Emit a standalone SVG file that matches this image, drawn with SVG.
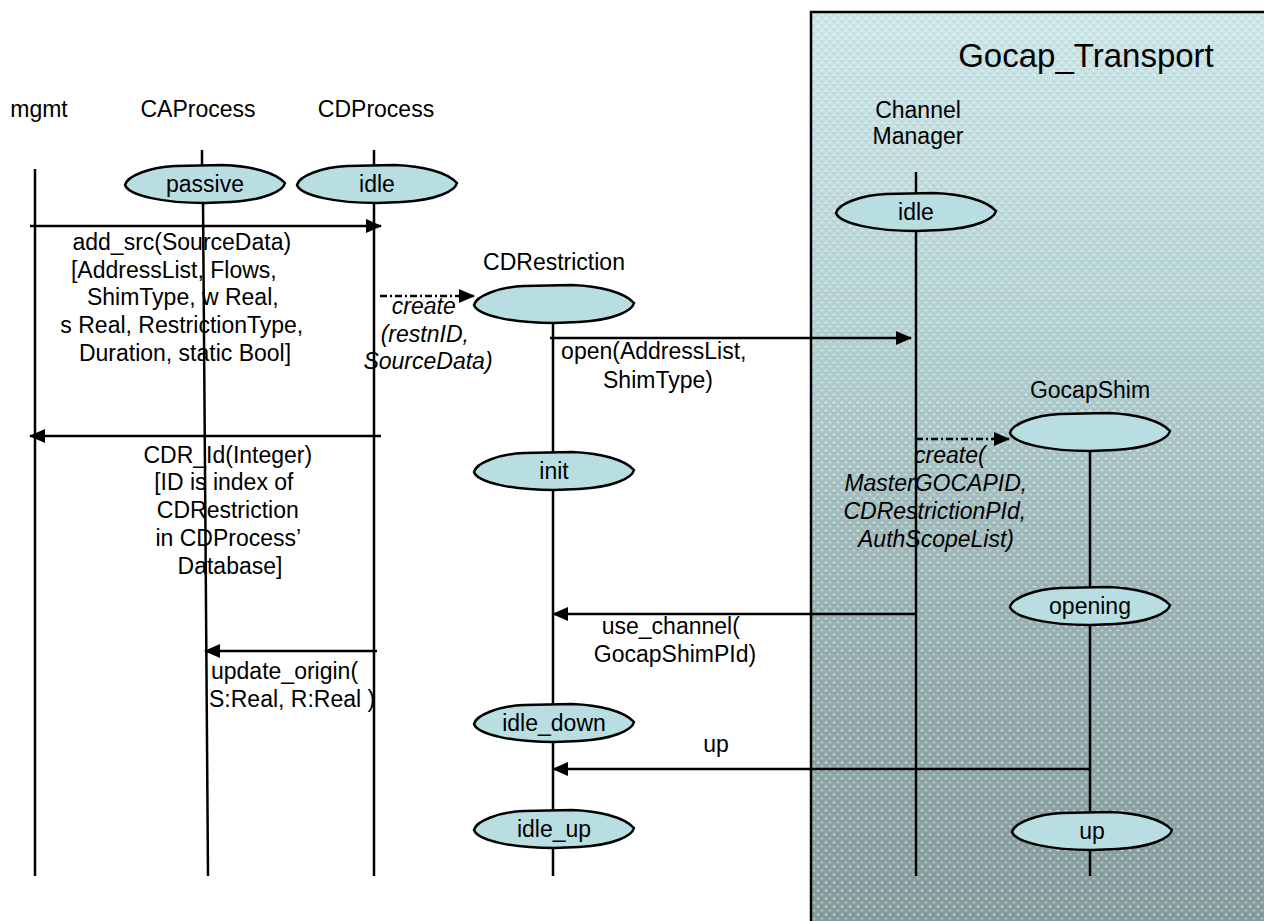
<svg xmlns="http://www.w3.org/2000/svg" xmlns:xlink="http://www.w3.org/1999/xlink" width="1264" height="921" viewBox="0 0 1264 921">
  <style>
    text { font-family: "Liberation Sans", Arial, sans-serif; font-size: 23px; fill: #000; }
    .mid { text-anchor: middle; }
    .it { font-style: italic; }
    .title { font-size: 33px; }
    .life { stroke: #000; stroke-width: 2.5; fill: none; }
    .msg { stroke: #000; stroke-width: 2.5; fill: none; marker-end: url(#head); }
    .create { stroke: #000; stroke-width: 2.5; fill: none; stroke-dasharray: 7 3 2 3; marker-end: url(#head); }
    .state { fill: #b8dee2; stroke: #000; stroke-width: 2.5; }
  </style>
  <defs>
    <marker id="head" markerUnits="userSpaceOnUse" markerWidth="16" markerHeight="14" refX="15" refY="7" orient="auto">
      <path d="M0,0 L16,7 L0,14 Z" fill="#000"/>
    </marker>
    <linearGradient id="shade" x1="0" y1="0" x2="0" y2="1">
      <stop offset="0" stop-color="#cbe6e8"/>
      <stop offset="0.35" stop-color="#b2d0d2"/>
      <stop offset="0.7" stop-color="#94acad"/>
      <stop offset="1" stop-color="#829a9a"/>
    </linearGradient>
    <pattern id="dots" width="8" height="8" patternUnits="userSpaceOnUse">
      <path d="M2,1 v3 M0.5,2.5 h3" stroke="#ffffff" stroke-opacity="0.45" stroke-width="1"/>
      <path d="M6,5 v3 M4.5,6.5 h3" stroke="#ffffff" stroke-opacity="0.3" stroke-width="1"/>
      <rect x="5" y="1" width="1" height="1" fill="#000" fill-opacity="0.15"/>
      <rect x="1" y="5" width="1" height="1" fill="#000" fill-opacity="0.15"/>
    </pattern>
    <path id="stateShape" d="M-80,1 C-78,-8 -55,-17 -30,-18 L18,-19 C45,-18 70,-12 80,-1 C78,7 60,16 25,18 L0,19 C-40,19 -76,12 -80,1 Z"/>
  </defs>

  <!-- Gocap_Transport container -->
  <g id="gocap-transport">
    <rect x="811" y="12" width="470" height="930" fill="url(#shade)"/>
    <rect x="811" y="12" width="470" height="930" fill="url(#dots)"/>
    <rect x="811" y="12" width="470" height="930" fill="none" stroke="#000" stroke-width="2.5"/>
    <text x="1086" y="67" class="title mid">Gocap_Transport</text>
  </g>

  <!-- lifelines -->
  <g id="mgmt">
    <text x="39" y="117" class="mid">mgmt</text>
    <line x1="35" y1="169" x2="35" y2="876" class="life"/>
  </g>
  <g id="caprocess">
    <text x="198" y="117" class="mid">CAProcess</text>
    <line x1="202" y1="150" x2="202" y2="168" class="life"/>
    <line x1="203" y1="200" x2="208" y2="876" class="life"/>
  </g>
  <g id="cdprocess">
    <text x="376" y="117" class="mid">CDProcess</text>
    <line x1="374" y1="150" x2="374" y2="168" class="life"/>
    <line x1="374" y1="200" x2="374" y2="876" class="life"/>
  </g>
  <g id="cdrestriction">
    <text x="554" y="270" class="mid">CDRestriction</text>
    <line x1="553" y1="320" x2="553" y2="876" class="life"/>
  </g>
  <g id="channel-manager">
    <text x="918" y="118" class="mid">Channel</text>
    <text x="918" y="144" class="mid">Manager</text>
    <line x1="916" y1="172" x2="916" y2="196" class="life"/>
    <line x1="916" y1="228" x2="916" y2="876" class="life"/>
  </g>
  <g id="gocapshim">
    <text x="1090" y="398" class="mid">GocapShim</text>
    <line x1="1090" y1="448" x2="1090" y2="876" class="life"/>
  </g>

  <!-- states -->
  <g id="state-passive">
    <use xlink:href="#stateShape" x="205" y="184" class="state"/>
    <text x="205" y="192" class="mid">passive</text>
  </g>
  <g id="state-cdprocess-idle">
    <use xlink:href="#stateShape" x="377" y="184" class="state"/>
    <text x="377" y="192" class="mid">idle</text>
  </g>
  <g id="state-cm-idle">
    <use xlink:href="#stateShape" x="916" y="212" class="state"/>
    <text x="916" y="220" class="mid">idle</text>
  </g>
  <g id="state-cdrestriction-new">
    <use xlink:href="#stateShape" x="554" y="304" class="state"/>
  </g>
  <g id="state-init">
    <use xlink:href="#stateShape" x="554" y="471" class="state"/>
    <text x="554" y="479" class="mid">init</text>
  </g>
  <g id="state-idle-down">
    <use xlink:href="#stateShape" x="554" y="723" class="state"/>
    <text x="554" y="731" class="mid">idle_down</text>
  </g>
  <g id="state-idle-up">
    <use xlink:href="#stateShape" x="554" y="829" class="state"/>
    <text x="554" y="837" class="mid">idle_up</text>
  </g>
  <g id="state-gocapshim-new">
    <use xlink:href="#stateShape" x="1090" y="432" class="state"/>
  </g>
  <g id="state-opening">
    <use xlink:href="#stateShape" x="1090" y="606" class="state"/>
    <text x="1090" y="614" class="mid">opening</text>
  </g>
  <g id="state-up">
    <use xlink:href="#stateShape" x="1092" y="831" class="state"/>
    <text x="1092" y="839" class="mid">up</text>
  </g>

  <!-- messages -->
  <g id="connectors">
    <line x1="30" y1="226" x2="381" y2="226" class="msg"/>
    <line x1="380" y1="296" x2="474" y2="296" class="create"/>
    <line x1="550" y1="338" x2="911" y2="338" class="msg"/>
    <line x1="381" y1="436" x2="30" y2="436" class="msg"/>
    <line x1="916" y1="439" x2="1009" y2="439" class="create"/>
    <line x1="916" y1="614" x2="553" y2="614" class="msg"/>
    <line x1="377" y1="651" x2="205" y2="651" class="msg"/>
    <line x1="1091" y1="769" x2="553" y2="769" class="msg"/>

    <text class="mid">
      <tspan x="185" y="250">add_src(SourceData)</tspan>
      <tspan x="177" y="278">[AddressList, Flows,</tspan>
      <tspan x="186" y="305">ShimType, w Real,</tspan>
      <tspan x="185" y="333">s Real, RestrictionType,</tspan>
      <tspan x="185" y="361">Duration, static Bool]</tspan>
    </text>
    <text class="mid it">
      <tspan x="427" y="314">create</tspan>
      <tspan x="428" y="342">(restnID,</tspan>
      <tspan x="428" y="369">SourceData)</tspan>
    </text>
    <text class="mid">
      <tspan x="657" y="359">open(AddressList,</tspan>
      <tspan x="658" y="388">ShimType)</tspan>
    </text>
    <text class="mid">
      <tspan x="231" y="463">CDR_Id(Integer)</tspan>
      <tspan x="227" y="490">[ID is index of</tspan>
      <tspan x="231" y="518">CDRestriction</tspan>
      <tspan x="231" y="546">in CDProcess’</tspan>
      <tspan x="230" y="574">Database]</tspan>
    </text>
    <text class="mid it">
      <tspan x="953" y="463">create(</tspan>
      <tspan x="939" y="491">MasterGOCAPID,</tspan>
      <tspan x="938" y="519">CDRestrictionPId,</tspan>
      <tspan x="936" y="547">AuthScopeList)</tspan>
    </text>
    <text class="mid">
      <tspan x="674" y="634">use_channel(</tspan>
      <tspan x="675" y="662">GocapShimPId)</tspan>
    </text>
    <text>
      <tspan x="211" y="679">update_origin(</tspan>
      <tspan x="209" y="707">S:Real, R:Real )</tspan>
    </text>
    <text x="716" y="752" class="mid">up</text>
  </g>
</svg>
